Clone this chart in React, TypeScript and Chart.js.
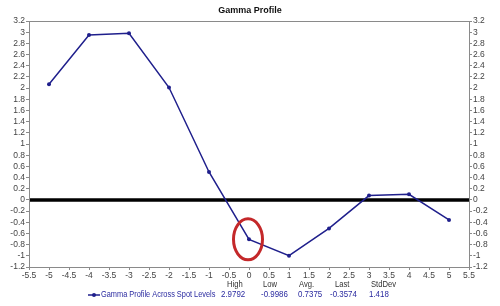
import React, { useEffect, useRef } from "react";
import { Chart, registerables } from "chart.js";

Chart.register(...registerables);

const spotLevels = [-5, -4, -3, -2, -1, 0, 1, 2, 3, 4, 5];
const gammaValues = [2.07, 2.95, 2.9792, 2.01, 0.5, -0.705, -0.9986, -0.51, 0.077, 0.1, -0.3574];
const seriesName = "Gamma Profile Across Spot Levels";
const statLabels = ["High", "Low", "Avg.", "Last", "StdDev"];
const statValues = ["2.9792", "-0.9986", "0.7375", "-0.3574", "1.418"];
const highlightPoint = { x: 0, y: -0.705 };

const FONT = "'Liberation Sans', Arial, sans-serif";
const NAVY = "#1f1f8c";

const fmt = (v: number) => {
  if (Math.abs(v) < 1e-9) return "0";
  return String(parseFloat(v.toFixed(2)));
};

const condensedText = (ctx: any, text: string, x: number, y: number, sx: number) => {
  ctx.save();
  ctx.translate(x, y);
  ctx.scale(sx, 1);
  ctx.fillText(text, 0, 0);
  ctx.restore();
};

const overlayPlugin = {
  id: "overlay",
  beforeDatasetsDraw(chart: any) {
    const { ctx, chartArea, scales } = chart;
    const y0 = scales.y.getPixelForValue(0);
    ctx.save();
    ctx.strokeStyle = "#000";
    ctx.lineWidth = 3.5;
    ctx.beginPath();
    ctx.moveTo(chartArea.left, y0);
    ctx.lineTo(chartArea.right, y0);
    ctx.stroke();
    ctx.restore();
  },
  afterDraw(chart: any) {
    const { ctx, chartArea, scales } = chart;
    ctx.save();
    // frame
    ctx.strokeStyle = "#8a8a8a";
    ctx.lineWidth = 1;
    ctx.strokeRect(chartArea.left + 0.5, chartArea.top + 0.5, chartArea.right - chartArea.left, chartArea.bottom - chartArea.top);
    // red highlight ellipse
    const cx = scales.x.getPixelForValue(highlightPoint.x);
    const cy = scales.y.getPixelForValue(highlightPoint.y);
    ctx.strokeStyle = "#c4282a";
    ctx.lineWidth = 3;
    ctx.beginPath();
    ctx.ellipse(cx - 1, cy, 14.5, 20.5, 0, 0, Math.PI * 2);
    ctx.stroke();

    // legend
    const ly = 295;
    ctx.strokeStyle = NAVY;
    ctx.lineWidth = 1.5;
    ctx.beginPath();
    ctx.moveTo(88, ly);
    ctx.lineTo(100, ly);
    ctx.stroke();
    ctx.fillStyle = NAVY;
    ctx.beginPath();
    ctx.arc(94, ly, 2, 0, Math.PI * 2);
    ctx.fill();
    ctx.font = `9px ${FONT}`;
    ctx.textBaseline = "middle";
    ctx.textAlign = "left";
    ctx.fillStyle = "#2a2aa0";
    condensedText(ctx, seriesName, 101, ly, 0.82);

    const headerX = [227, 263, 299, 335, 371];
    const valueX = [221, 261, 298, 330, 369];
    statLabels.forEach((lab, i) => {
      ctx.fillStyle = "#333";
      condensedText(ctx, lab, headerX[i], 285, 0.85);
      ctx.fillStyle = "#2a2aa0";
      condensedText(ctx, statValues[i], valueX[i], ly, 0.88);
    });
    ctx.restore();
  },
};

export default function App() {
  const ref = useRef<HTMLCanvasElement | null>(null);
  useEffect(() => {
    if (!ref.current) return;
    const tickFont = { family: FONT, size: 8.5 };
    const chart = new Chart(ref.current, {
      type: "line",
      data: {
        datasets: [
          {
            label: seriesName,
            data: spotLevels.map((x, i) => ({ x, y: gammaValues[i] })),
            borderColor: NAVY,
            backgroundColor: NAVY,
            borderWidth: 1.5,
            pointRadius: 2,
            pointBorderWidth: 0,
            tension: 0,
          },
        ],
      },
      options: {
        responsive: false,
        animation: false,
        events: [],
        layout: { padding: 0 },
        plugins: {
          legend: { display: false },
          tooltip: { enabled: false },
          title: {
            display: true,
            text: "Gamma Profile",
            color: "#111",
            font: { family: FONT, size: 9, weight: "bold", lineHeight: 1.2 },
            padding: { top: 5, bottom: 5.2 },
          },
        },
        scales: {
          x: {
            type: "linear",
            min: -5.5,
            max: 5.5,
            ticks: { stepSize: 0.5, color: "#444", font: tickFont, padding: 1, maxRotation: 0, autoSkip: false, callback: (v: any) => fmt(Number(v)) },
            grid: { drawOnChartArea: false, tickLength: 3, color: "#8a8a8a" },
            border: { color: "#8a8a8a" },
            afterFit: (s: any) => { s.height = 39; },
          },
          y: {
            type: "linear",
            position: "left",
            min: -1.2,
            max: 3.2,
            ticks: { stepSize: 0.2, color: "#444", font: tickFont, padding: 1, autoSkip: false, callback: (v: any) => fmt(Number(v)) },
            grid: { drawOnChartArea: false, tickLength: 3, color: "#8a8a8a" },
            border: { color: "#8a8a8a" },
            afterFit: (s: any) => { s.width = 29; },
          },
          y2: {
            type: "linear",
            position: "right",
            min: -1.2,
            max: 3.2,
            ticks: { stepSize: 0.2, color: "#444", font: tickFont, padding: 1, autoSkip: false, callback: (v: any) => fmt(Number(v)) },
            grid: { drawOnChartArea: false, tickLength: 3, color: "#8a8a8a" },
            border: { color: "#8a8a8a" },
            afterFit: (s: any) => { s.width = 31; },
          },
        },
      },
      plugins: [overlayPlugin],
    } as any);
    return () => chart.destroy();
  }, []);
  return (
    <div style={{ position: "absolute", left: 0, top: 0, width: 500, height: 306, background: "#fff" }}>
      <canvas ref={ref} width={500} height={306} style={{ display: "block", width: 500, height: 306 }} />
    </div>
  );
}
